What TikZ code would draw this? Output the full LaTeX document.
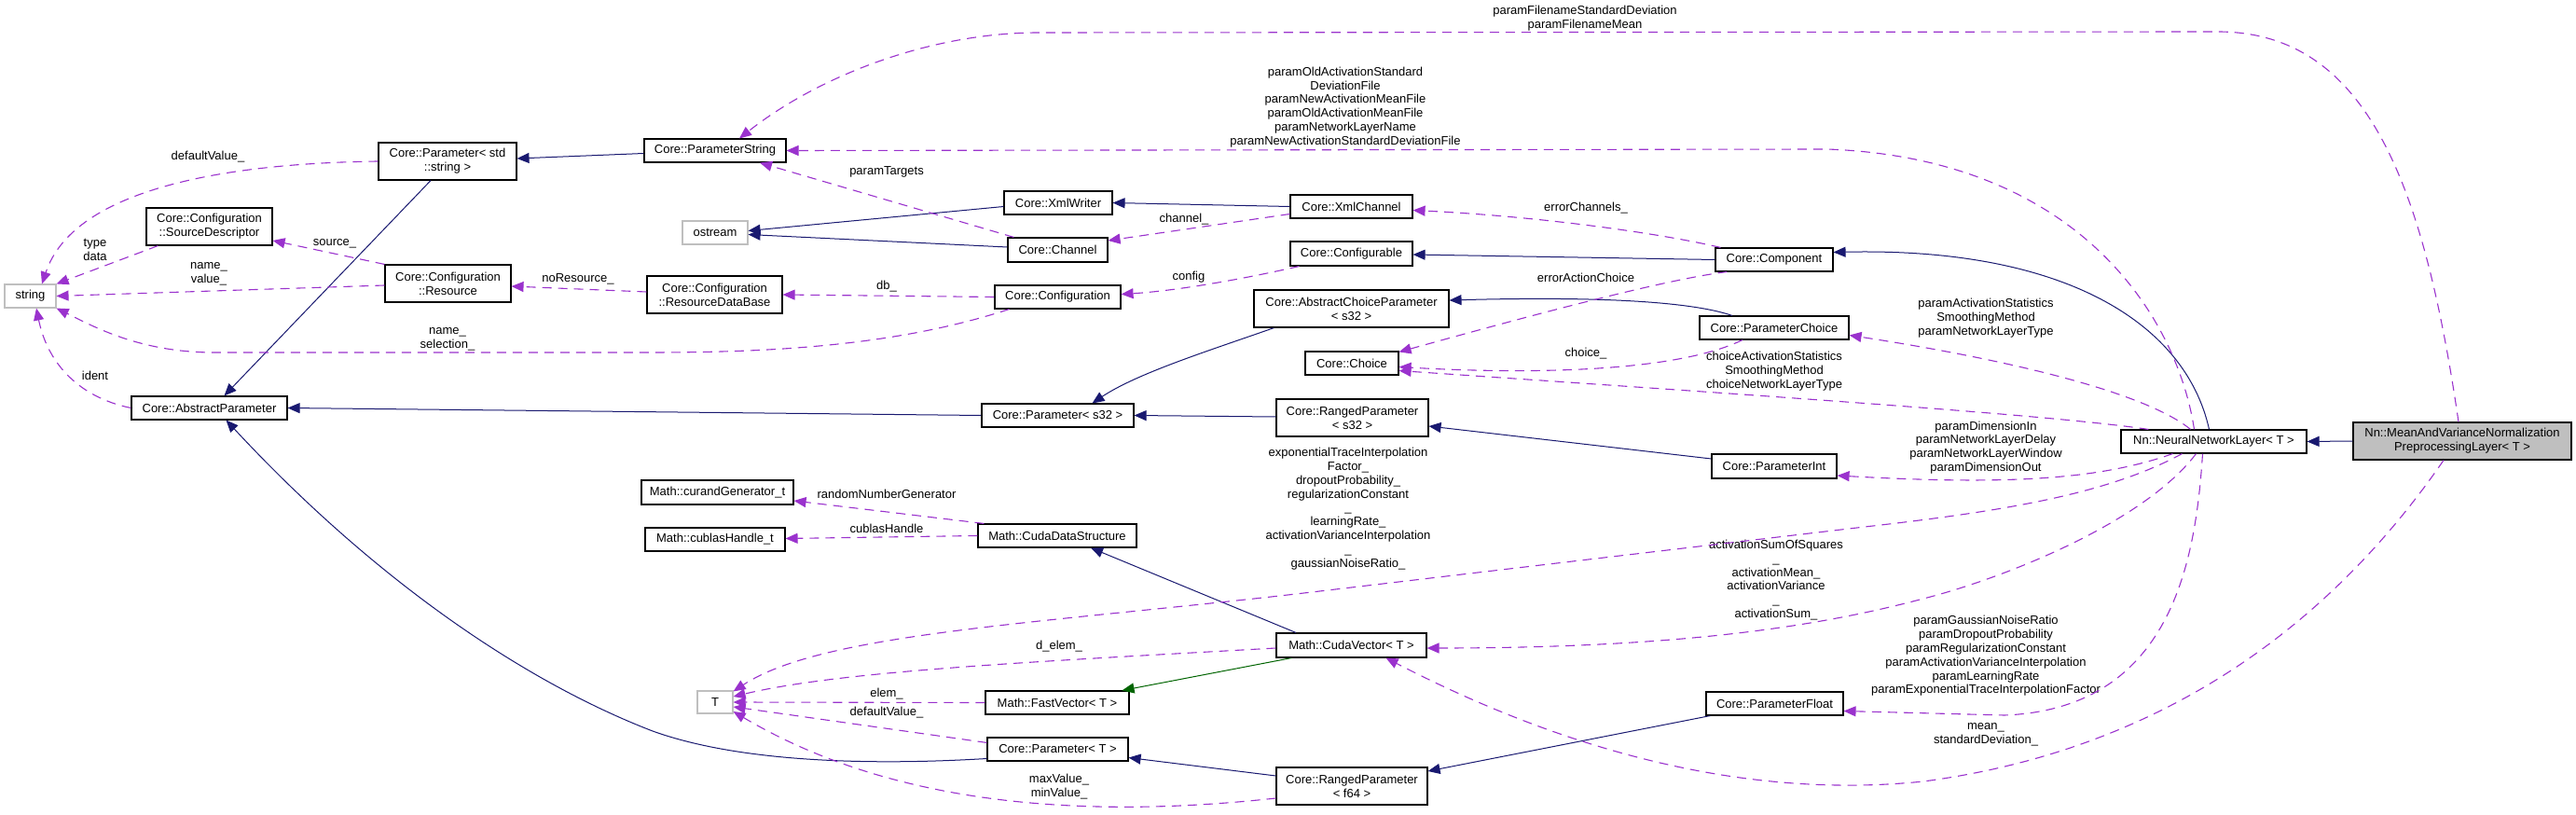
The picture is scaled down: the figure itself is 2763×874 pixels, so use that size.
\documentclass[tikz,border=0pt]{standalone}
\usepackage{fontspec}
\setmainfont{Liberation Sans}
\usetikzlibrary{arrows.meta,calc}
\definecolor{inhblue}{HTML}{191970}
\definecolor{usepurple}{HTML}{9A32CD}
\definecolor{tgreen}{HTML}{006400}
\definecolor{boxgray}{HTML}{BFBFBF}
\newcommand{\dxfont}{\fontsize{13}{14.8}\selectfont}
\begin{document}
\begin{tikzpicture}[x=1pt,y=-1pt,
  box/.style={draw=black,line width=1.1pt,fill=white,inner sep=0pt,align=center,font=\dxfont,minimum height=25pt},
  gbox/.style={box,draw=boxgray},
  lbl/.style={inner sep=0pt,align=center,font=\dxfont},
  inh/.style={draw=inhblue,line width=1pt,-{Triangle[length=13pt,width=11pt]}},
  tinh/.style={draw=tgreen,line width=1pt,-{Triangle[length=13pt,width=11pt]}},
  member/.style={draw=usepurple,line width=1.1pt,dash pattern=on 10pt off 7pt,-{Triangle[length=13pt,width=11pt]}}]
\useasboundingbox (0,0) rectangle (2763,874);

% ---------- nodes ----------
\node[gbox,minimum width=55pt] (str) at (32.5,317.5) {string};
\node[box,minimum width=167pt] (absp) at (224.5,437.5) {Core::AbstractParameter};
\node[box,minimum width=148pt,minimum height=40pt] (pstr) at (480,173) {Core::Parameter< std\\::string >};
\node[box,minimum width=135pt,minimum height=40pt] (srcd) at (224.5,243) {Core::Configuration\\::SourceDescriptor};
\node[box,minimum width=135pt,minimum height=40pt] (res) at (480.5,304) {Core::Configuration\\::Resource};
\node[box,minimum width=152pt] (pstring) at (767,161.5) {Core::ParameterString};
\node[gbox,minimum width=70pt] (ostream) at (767,249.5) {ostream};
\node[box,minimum width=145pt,minimum height=40pt] (rdb) at (766.5,316) {Core::Configuration\\::ResourceDataBase};
\node[box,minimum width=163pt,minimum height=26pt] (curand) at (769.5,528) {Math::curandGenerator\_t};
\node[box,minimum width=150pt] (cublas) at (767,578.5) {Math::cublasHandle\_t};
\node[gbox,minimum width=38pt,minimum height=24pt] (T) at (767,753) {T};
\node[box,minimum width=116pt] (xmlw) at (1135,217.5) {Core::XmlWriter};
\node[box,minimum width=107pt,minimum height=26pt] (chan) at (1134.5,268) {Core::Channel};
\node[box,minimum width=135pt] (conf) at (1134.5,318.5) {Core::Configuration};
\node[box,minimum width=163pt] (ps32) at (1134.5,445.5) {Core::Parameter< s32 >};
\node[box,minimum width=170pt] (cuds) at (1134,574.5) {Math::CudaDataStructure};
\node[box,minimum width=154pt] (fastv) at (1134,753.5) {Math::FastVector< T >};
\node[box,minimum width=151pt] (pT) at (1134.5,803.5) {Core::Parameter< T >};
\node[box,minimum width=131pt] (xmlc) at (1449.5,221.5) {Core::XmlChannel};
\node[box,minimum width=131pt,minimum height=26pt] (cfgb) at (1449.5,272) {Core::Configurable};
\node[box,minimum width=209pt,minimum height=40pt] (acp) at (1449.5,331) {Core::AbstractChoiceParameter\\< s32 >};
\node[box,minimum width=100pt] (choice) at (1450,389.5) {Core::Choice};
\node[box,minimum width=163pt,minimum height=40pt] (rps32) at (1450.5,448) {Core::RangedParameter\\< s32 >};
\node[box,minimum width=161pt,minimum height=26pt] (cuv) at (1449.5,692) {Math::CudaVector< T >};
\node[box,minimum width=162pt,minimum height=40pt] (rpf64) at (1450,843) {Core::RangedParameter\\< f64 >};
\node[box,minimum width=126pt] (comp) at (1903,278.5) {Core::Component};
\node[box,minimum width=160pt] (pchoice) at (1903,351.5) {Core::ParameterChoice};
\node[box,minimum width=134pt,minimum height=26pt] (pint) at (1903,500) {Core::ParameterInt};
\node[box,minimum width=147pt] (pfloat) at (1903.5,754.5) {Core::ParameterFloat};
\node[box,minimum width=199pt] (nnl) at (2374.5,473.5) {Nn::NeuralNetworkLayer< T >};
\node[box,fill=boxgray,minimum width=234pt,minimum height=40pt] (mvn) at (2641,473) {Nn::MeanAndVarianceNormalization\\PreprocessingLayer< T >};

% ---------- labels ----------
\node[lbl] (la) at (223,168) {defaultValue\_};
\node[lbl] (lb) at (102,268) {type\\data};
\node[lbl] (lc) at (224,293.5) {name\_\\value\_};
\node[lbl] (ld) at (480,363.5) {name\_\\selection\_};
\node[lbl] (le) at (102,403) {ident};
\node[lbl] (lf) at (359,261) {source\_};
\node[lbl] (lg) at (620,299) {noResource\_};
\node[lbl] (lh) at (951,307) {db\_};
\node[lbl] (li) at (1275,297) {config};
\node[lbl] (lj) at (951,184) {paramTargets};
\node[lbl] (lk) at (1270,235) {channel\_};
\node[lbl] (ll) at (1701,223) {errorChannels\_};
\node[lbl] (lm) at (1701,298) {errorActionChoice};
\node[lbl] (ln) at (1701,379) {choice\_};
\node[lbl] (lo) at (1903,398) {choiceActivationStatistics\\SmoothingMethod\\choiceNetworkLayerType};
\node[lbl] (lp) at (2130,341) {paramActivationStatistics\\SmoothingMethod\\paramNetworkLayerType};
\node[lbl] (lq) at (1443,115) {paramOldActivationStandard\\DeviationFile\\paramNewActivationMeanFile\\paramOldActivationMeanFile\\paramNetworkLayerName\\paramNewActivationStandardDeviationFile};
\node[lbl] (lr) at (1700,19.5) {paramFilenameStandardDeviation\\paramFilenameMean};
\node[lbl] (ls) at (2130,480) {paramDimensionIn\\paramNetworkLayerDelay\\paramNetworkLayerWindow\\paramDimensionOut};
\node[lbl] (lt) at (1446,545.5) {exponentialTraceInterpolation\\Factor\_\\dropoutProbability\_\\regularizationConstant\\\_\\learningRate\_\\activationVarianceInterpolation\\\_\\gaussianNoiseRatio\_};
\node[lbl] (lu) at (1905,622) {activationSumOfSquares\\\_\\activationMean\_\\activationVariance\\\_\\activationSum\_};
\node[lbl] (lv) at (2130,703.5) {paramGaussianNoiseRatio\\paramDropoutProbability\\paramRegularizationConstant\\paramActivationVarianceInterpolation\\paramLearningRate\\paramExponentialTraceInterpolationFactor};
\node[lbl] (lw) at (2130,787.5) {mean\_\\standardDeviation\_};
\node[lbl] (lx) at (951,530) {randomNumberGenerator};
\node[lbl] (ly) at (951,567) {cublasHandle};
\node[lbl] (lz) at (1136,693) {d\_elem\_};
\node[lbl] (laa) at (951,744) {elem\_};
\node[lbl] (lab) at (951,764) {defaultValue\_};
\node[lbl] (lac) at (1136,843.5) {maxValue\_\\minValue\_};

% ---------- inheritance ----------
\draw[inh] ($(pstring.west)+(0,3)$) -- ($(pstr.east)+(0,-3)$);
\draw[inh] ($(pstr.south)+(-18,0)$) -- ($(absp.north)+(16,0)$);
\draw[inh] (ps32.west) -- (absp.east);
\draw[inh] ($(pT.west)+(0,10)$) .. controls (950,820) and (800,820) .. (700,784) .. controls (560,730) and (400,620) .. ($(absp.south)+(18,0)$);
\draw[inh] ($(xmlw.west)+(0,4)$) -- ($(ostream.east)+(0,-2)$);
\draw[inh] ($(chan.west)+(0,-3)$) -- ($(ostream.east)+(0,2)$);
\draw[inh] (xmlc.west) -- (xmlw.east);
\draw[inh] (comp.west) -- ($(cfgb.east)+(0,1)$);
\draw[inh] ($(nnl.north)+(-5,0)$) .. controls (2345,350) and (2220,265) .. ($(comp.east)+(0,-8)$);
\draw[inh] ($(pchoice.north)+(-45,0)$) .. controls (1810,322) and (1700,318) .. ($(acp.east)+(0,-9)$);
\draw[inh] ($(acp.south)+(-83,0)$) .. controls (1300,375) and (1220,400) .. ($(ps32.north)+(37,0)$);
\draw[inh] ($(rps32.west)+(0,-1)$) -- (ps32.east);
\draw[inh] ($(pint.west)+(0,-8)$) -- ($(rps32.east)+(0,9)$);
\draw[inh] ($(cuv.north)+(-59.5,0)$) -- ($(cuds.south)+(36,0)$);
\draw[tinh] ($(cuv.south west)+(17,0)$) -- ($(fastv.north east)+(-8,0)$);
\draw[inh] ($(pfloat.south west)+(5,0)$) -- ($(rpf64.east)+(0,-16)$);
\draw[inh] ($(rpf64.west)+(0,-11)$) -- ($(pT.east)+(0,9)$);
\draw[inh] (mvn.west) -- (nnl.east);

% ---------- members ----------
\draw[member] (pstr.west) .. controls (250,175) and (80,200) .. ($(str.north)+(12.5,0)$);
\draw[member] ($(srcd.south west)+(13,0)$) -- (str.north east);
\draw[member] ($(res.west)+(0,2)$) -- (str.east);
\draw[member] ($(conf.south west)+(16,0)$) .. controls (950,375) and (800,378) .. (690,378) -- (230,378) .. controls (150,378) and (100,350) .. (str.south east);
\draw[member] (absp.west) .. controls (80,425) and (50,385) .. ($(str.south)+(6.5,0)$);
\draw[member] (res.north west) -- ($(srcd.east)+(0,15)$);
\draw[member] ($(rdb.west)+(0,-3)$) -- ($(res.east)+(0,3)$);
\draw[member] (conf.west) -- (rdb.east);
\draw[member] ($(cfgb.south west)+(10,0)$) .. controls (1330,300) and (1260,312) .. ($(conf.east)+(0,-3)$);
\draw[member] ($(chan.north)+(-47,0)$) -- ($(pstring.south)+(48,0)$);
\draw[member] ($(xmlc.west)+(0,8)$) -- ($(chan.east)+(0,-10)$);
\draw[member] ($(comp.north west)+(6,0)$) .. controls (1780,250) and (1650,232) .. ($(xmlc.east)+(0,4)$);
\draw[member] ($(comp.south west)+(13,0)$) .. controls (1780,300) and (1600,350) .. ($(choice.north east)+(0,1)$);
\draw[member] ($(pchoice.south)+(-34,0)$) .. controls (1800,398) and (1650,402) .. ($(choice.east)+(0,4)$);
\draw[member] ($(nnl.north west)+(30,0)$) .. controls (2200,445) and (1900,425) .. ($(choice.east)+(0,8)$);
\draw[member] ($(nnl.north)+(-25,0)$) .. controls (2300,420) and (2150,385) .. ($(pchoice.east)+(0,8)$);
\draw[member] ($(nnl.north)+(-21,0)$) .. controls (2335,340) and (2230,170) .. (1960,160) -- (pstring.east);
\draw[member] ($(mvn.north)+(-4,0)$) .. controls (2600,200) and (2540,35) .. (2380,34) -- (1114,35) .. controls (1000,35) and (880,80) .. ($(pstring.north)+(26,0)$);
\draw[member] ($(nnl.south)+(-44,0)$) .. controls (2250,515) and (2150,520) .. ($(pint.east)+(0,10)$);
\draw[member] ($(nnl.south)+(-34,0)$) .. controls (2260,530) and (2150,548) .. (2000,565) -- (1390,637) .. controls (1100,670) and (880,680) .. ($(T.north east)+(0,1)$);
\draw[member] ($(nnl.south)+(-19,0)$) .. controls (2300,560) and (2150,620) .. (2063,642) .. controls (1950,672) and (1800,695) .. ($(cuv.east)+(0,3)$);
\draw[member] ($(nnl.south)+(-12,0)$) .. controls (2355,600) and (2330,760) .. (2150,767) -- ($(pfloat.east)+(0,8)$);
\draw[member] ($(mvn.south)+(-20,0)$) .. controls (2520,640) and (2350,800) .. (2063,838) .. controls (1850,860) and (1650,790) .. ($(cuv.south)+(37,0)$);
\draw[member] ($(cuds.north west)+(7,0)$) -- ($(curand.east)+(0,9)$);
\draw[member] (cuds.west) -- ($(cublas.east)+(0,-1)$);
\draw[member] ($(cuv.west)+(0,3)$) .. controls (1100,710) and (900,720) .. ($(T.east)+(0,-6)$);
\draw[member] (fastv.west) -- (T.east);
\draw[member] ($(pT.north west)+(0,6)$) -- ($(T.east)+(0,5)$);
\draw[member] ($(rpf64.west)+(0,13)$) .. controls (1150,880) and (950,860) .. ($(T.east)+(0,10)$);
\end{tikzpicture}
\end{document}
